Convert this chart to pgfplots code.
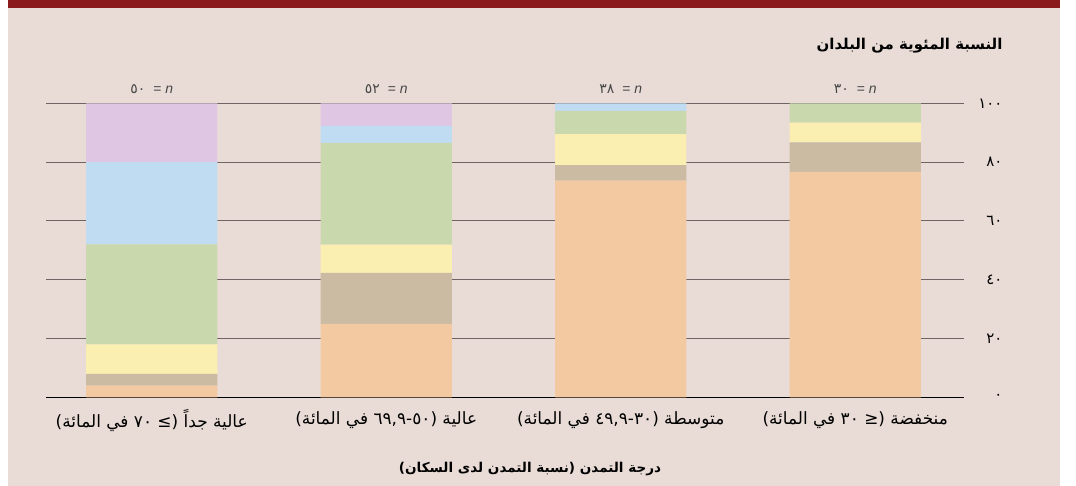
\documentclass[border=0pt]{standalone}
\usepackage{fontspec}
\usepackage{pgfplots}
\pgfplotsset{compat=1.18}
\TeXXeTstate=1
\setmainfont{DejaVu Sans}
\newfontfamily\arabicfont[Script=Arabic]{DejaVu Sans}
\newfontfamily\latinfont{Liberation Sans}
\definecolor{bg}{RGB}{233,220,214}
\definecolor{topred}{RGB}{139,26,29}
\definecolor{cOrange}{RGB}{243,201,162}
\definecolor{cBrown}{RGB}{202,187,162}
\definecolor{cYellow}{RGB}{250,238,176}
\definecolor{cGreen}{RGB}{202,216,174}
\definecolor{cBlue}{RGB}{192,220,242}
\definecolor{cPurple}{RGB}{223,198,226}
\definecolor{gridc}{RGB}{110,100,100}
\definecolor{ntext}{RGB}{70,70,70}
\begin{document}
\begin{tikzpicture}[x=1bp,y=1bp]
\fill[white] (0,0) rectangle (1076,486);
\fill[bg] (8,0) rectangle (1060,478);
\fill[topred] (8,478) rectangle (1060,486);
\begin{axis}[
  at={(46bp,88.7bp)}, anchor=south west,
  scale only axis, width=918bp, height=294bp,
  ybar stacked, bar width=0.559,
  xmin=-0.451, xmax=3.464, ymin=0, ymax=100,
  axis line style={draw=none},
  major tick length=0pt,
  ymajorgrids, grid style={gridc, line width=0.9bp},
  ytick={0,20,40,60,80,100},
  yticklabels={٠,٢٠,٤٠,٦٠,٨٠,١٠٠},
  yticklabel pos=right,
  yticklabel style={anchor=east, xshift=42bp, font=\arabicfont\fontsize{15}{17}\selectfont, text=black},
  xtick={0,1,2,3},
  xticklabels={
    {\beginR عالية جداً (≥ ٧٠ في المائة)\endR},
    {\beginR عالية (٥٠-٦٩,٩ في المائة)\endR},
    {\beginR متوسطة (٣٠-٤٩,٩ في المائة)\endR},
    {\beginR منخفضة (≤ ٣٠ في المائة)\endR}},
  xticklabel style={anchor=center, yshift=-23bp, font=\arabicfont\fontsize{17}{19}\selectfont, text=black},
  every axis plot/.append style={draw=none},
  clip=false,
]
\addplot[fill=cOrange] coordinates {(0,4) (1,25.0) (2,73.7) (3,76.7)};
\addplot[fill=cBrown] coordinates {(0,4) (1,17.3) (2,5.3) (3,10.0)};
\addplot[fill=cYellow] coordinates {(0,10) (1,9.6) (2,10.5) (3,6.7)};
\addplot[fill=cGreen] coordinates {(0,34) (1,34.6) (2,7.9) (3,6.6)};
\addplot[fill=cBlue] coordinates {(0,28) (1,5.8) (2,2.6) (3,0)};
\addplot[fill=cPurple] coordinates {(0,20) (1,7.7) (2,0) (3,0)};
\draw[black, line width=1.2bp] (rel axis cs:0,0) -- (rel axis cs:1,0);
\node[text=ntext, font=\fontsize{14}{16}\selectfont] at (axis cs:0,100) [yshift=14bp] {{\arabicfont ٥٠}\hspace{8bp}{\latinfont = \textit{n}}};
\node[text=ntext, font=\fontsize{14}{16}\selectfont] at (axis cs:1,100) [yshift=14bp] {{\arabicfont ٥٢}\hspace{8bp}{\latinfont = \textit{n}}};
\node[text=ntext, font=\fontsize{14}{16}\selectfont] at (axis cs:2,100) [yshift=14bp] {{\arabicfont ٣٨}\hspace{8bp}{\latinfont = \textit{n}}};
\node[text=ntext, font=\fontsize{14}{16}\selectfont] at (axis cs:3,100) [yshift=14bp] {{\arabicfont ٣٠}\hspace{8bp}{\latinfont = \textit{n}}};
\end{axis}
\node[anchor=east, font=\arabicfont\bfseries\fontsize{15}{17}\selectfont] at (1006,440) {\beginR النسبة المئوية من البلدان\endR};
\node[font=\arabicfont\bfseries\fontsize{13.6}{16}\selectfont] at (530,17) {\beginR درجة التمدن (نسبة التمدن لدى السكان)\endR};
\end{tikzpicture}
\end{document}
